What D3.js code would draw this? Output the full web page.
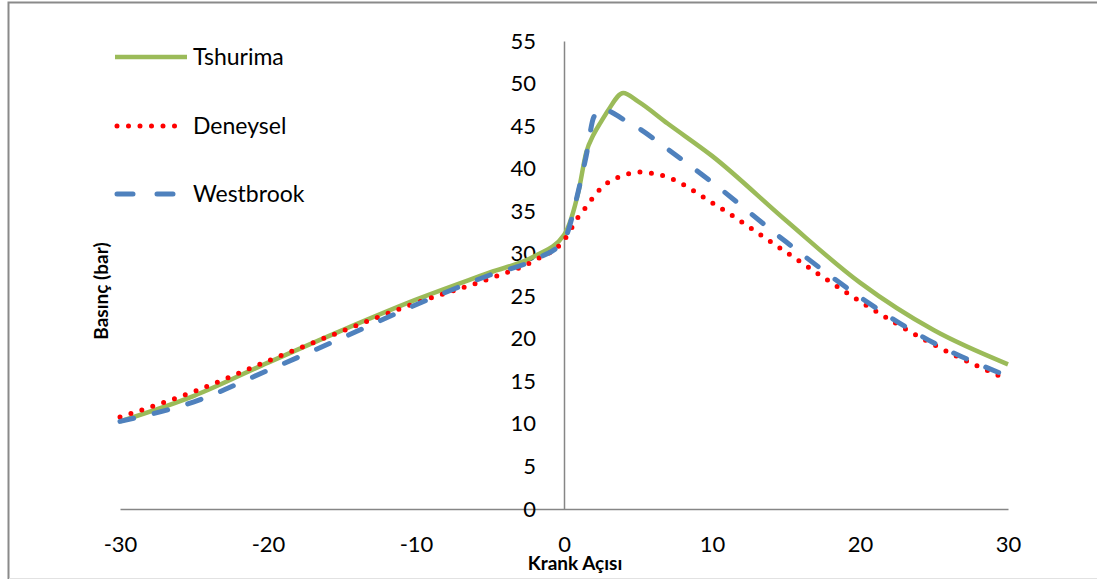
<!DOCTYPE html>
<html>
<head>
<meta charset="utf-8">
<script src="https://cdn.jsdelivr.net/npm/d3@7"></script>
<style>
  html, body { margin: 0; padding: 0; background: #fff; }
  svg { display: block; }
  text { font-family: Lato, "Open Sans", sans-serif; fill: #000; }
</style>
</head>
<body>
<svg id="chart" width="1097" height="580"></svg>
<script>
// Crank angle (degrees) shared by all three series
const angles = [-30, -25, -20, -15, -10, -5, -2, 0, 1, 1.5, 2, 2.5, 3, 4, 5, 7, 10, 15, 20, 25, 30];

// Cylinder pressure (bar)
const tshurima  = [10.3, 13.3, 17.2, 21.0, 24.6, 27.8, 29.7, 32.2, 37.5, 41.9, 44.0, 45.5, 46.9, 48.9, 47.9, 45.3, 41.5, 33.9, 26.6, 21.0, 17.0];
const deneysel  = [10.8, 13.8, 17.4, 20.9, 24.2, 27.1, 29.2, 31.6, 34.4, 35.5, 36.7, 37.7, 38.4, 39.2, 39.6, 39.0, 36.0, 30.2, 24.4, 19.3, 15.2];
const westbrook = [10.3, 12.6, 16.3, 20.1, 24.0, 27.5, 29.3, 31.6, 37.6, 41.5, 46.0, 47.0, 46.8, 45.8, 44.8, 42.3, 38.4, 31.4, 24.9, 19.5, 15.6];

const xTicks = [-30, -20, -10, 0, 10, 20, 30];
const yTicks = [0, 5, 10, 15, 20, 25, 30, 35, 40, 45, 50, 55];

const seriesNames = ["Tshurima", "Deneysel", "Westbrook"];

const svg = d3.select("#chart");

// outer frame
const frame = svg.append("g").attr("fill", "none");
frame.append("path")
  .attr("d", "M8.5,579 V2.5 H1100")
  .attr("stroke", "#8a8a8a")
  .attr("stroke-width", 2);
frame.append("path")
  .attr("d", "M9,578.5 H1100")
  .attr("stroke", "#e2e2e2")
  .attr("stroke-width", 1);

const x = d3.scaleLinear().domain([-30, 30]).range([120, 1008]);
const y = d3.scaleLinear().domain([0, 55]).range([509, 41]);

const plainNumber = d => String(d);

// horizontal axis along pressure = 0
const xAxis = svg.append("g")
  .attr("transform", `translate(0,${y(0)})`)
  .call(d3.axisBottom(x).tickValues(xTicks).tickSize(0).tickPadding(27).tickFormat(plainNumber));
xAxis.select(".domain").attr("stroke", "#868686").attr("stroke-width", 1.5);
xAxis.selectAll("text").style("font-size", "22px").attr("fill", "#000");

// vertical axis through crank angle = 0, labels placed to its left
const yAxis = svg.append("g")
  .attr("transform", `translate(${x(0)},0)`)
  .call(d3.axisLeft(y).tickValues(yTicks).tickSize(0).tickPadding(28).tickFormat(plainNumber));
yAxis.select(".domain").attr("stroke", "#868686").attr("stroke-width", 1.5);
yAxis.selectAll("text").style("font-size", "22px").attr("fill", "#000");

// axis titles
svg.append("text")
  .attr("x", 575).attr("y", 570)
  .attr("text-anchor", "middle")
  .style("font-size", "19px").style("font-weight", "bold")
  .text("Krank Açısı");

svg.append("text")
  .attr("transform", "translate(108,291) rotate(-90)")
  .attr("text-anchor", "middle")
  .style("font-size", "19px").style("font-weight", "bold")
  .text("Basınç (bar)");

const line = d3.line()
  .x(d => x(d[0]))
  .y(d => y(d[1]))
  .curve(d3.curveMonotoneX);

const styles = {
  Tshurima:  { color: "#9BBB59", width: 4.5, dash: null,     cap: "butt" },
  Deneysel:  { color: "#FF0000", width: 5,   dash: "0 11.5", cap: "round" },
  Westbrook: { color: "#4F81BD", width: 5,   dash: "14 21",  cap: "round" }
};

const seriesData = {
  Tshurima:  angles.map((a, i) => [a, tshurima[i]]),
  Deneysel:  angles.map((a, i) => [a, deneysel[i]]),
  Westbrook: angles.map((a, i) => [a, westbrook[i]])
};

// draw order: model, measured, second model on top
seriesNames.forEach(name => {
  const s = styles[name];
  svg.append("path")
    .datum(seriesData[name])
    .attr("d", line)
    .attr("fill", "none")
    .attr("stroke", s.color)
    .attr("stroke-width", s.width)
    .attr("stroke-linecap", s.cap)
    .attr("stroke-linejoin", "round")
    .attr("stroke-dasharray", s.dash);
});

// legend
const legendY = [57, 126, 194];
const legend = svg.append("g");
seriesNames.forEach((name, i) => {
  const s = styles[name];
  const g = legend.append("g").attr("transform", `translate(0,${legendY[i]})`);
  g.append("line")
    .attr("x1", name === "Tshurima" ? 115 : 117)
    .attr("x2", name === "Tshurima" ? 187 : 180)
    .attr("y1", 0).attr("y2", 0)
    .attr("stroke", s.color)
    .attr("stroke-width", s.width)
    .attr("stroke-linecap", s.cap)
    .attr("stroke-dasharray", name === "Westbrook" ? "16 24" : s.dash);
  g.append("text")
    .attr("x", 193).attr("y", 0)
    .attr("dy", "0.35em")
    .style("font-size", "23px")
    .text(name);
});
</script>
</body>
</html>
